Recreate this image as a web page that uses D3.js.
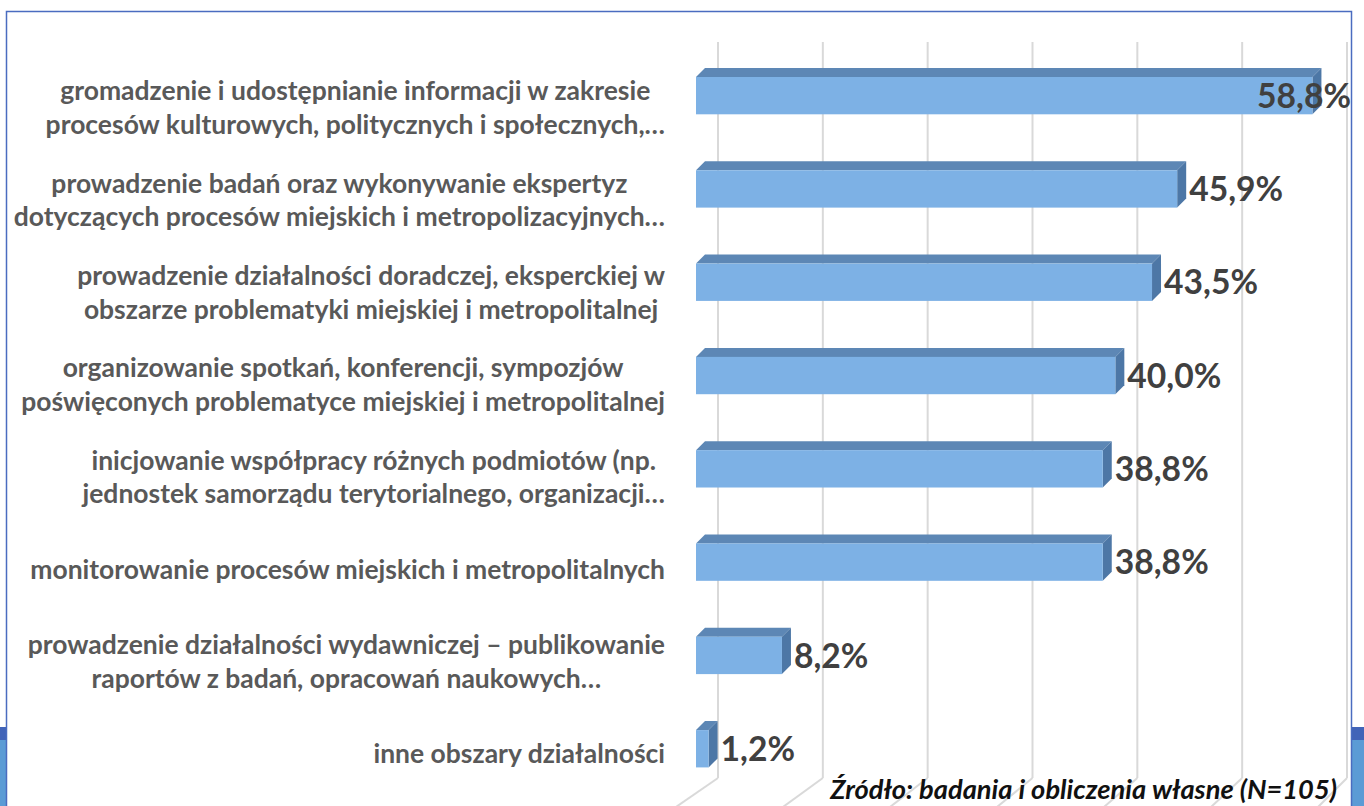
<!DOCTYPE html>
<html lang="pl">
<head>
<meta charset="utf-8">
<script src="https://d3js.org/d3.v7.min.js"></script>
<style>
  body { margin: 0; background: #fff; overflow: hidden; }
  svg { display: block; }
  .cat { fill: #595959; font-family: Lato, "Open Sans", sans-serif; font-weight: bold; }
  .val { fill: #404040; font-family: Lato, "Open Sans", sans-serif; font-weight: bold; }
  .src { fill: #111; font-family: Lato, "Open Sans", sans-serif; font-weight: bold; font-style: italic; }
</style>
</head>
<body>
<svg id="chart" width="1364" height="806"></svg>
<script>
// dane
var categories = [
  ["gromadzenie i udostępnianie informacji w zakresie", "procesów kulturowych, politycznych i społecznych,…"],
  ["prowadzenie badań oraz wykonywanie ekspertyz", "dotyczących procesów miejskich i metropolizacyjnych…"],
  ["prowadzenie działalności doradczej, eksperckiej w", "obszarze problematyki miejskiej i metropolitalnej"],
  ["organizowanie spotkań, konferencji, sympozjów", "poświęconych problematyce miejskiej i metropolitalnej"],
  ["inicjowanie współpracy różnych podmiotów (np.", "jednostek samorządu terytorialnego, organizacji…"],
  ["monitorowanie procesów miejskich i metropolitalnych"],
  ["prowadzenie działalności wydawniczej – publikowanie", "raportów z badań, opracowań naukowych…"],
  ["inne obszary działalności"]
];
var values = [58.8, 45.9, 43.5, 40.0, 38.8, 38.8, 8.2, 1.2];
var valueLabels = ["58,8%", "45,9%", "43,5%", "40,0%", "38,8%", "38,8%", "8,2%", "1,2%"];
var gridTicks = [0, 10, 20, 30, 40, 50, 60];
var sourceText = "Źródło: badania i obliczenia własne (N=105)";

var svg = d3.select("#chart");
var idx = d3.range(values.length);

var x = d3.scaleLinear().domain([0, 60]).range([696, 1325]);
var y = d3.scaleBand().domain(idx).range([49, 795.4]).paddingInner(0.6).paddingOuter(0.3);
var yLab = d3.scaleBand().domain(idx).range([61.8, 800.2]).paddingInner(0.6).paddingOuter(0.3);

var depth = 9;       // głębokość słupka 3D
var wallOff = 22;    // przesunięcie tylnej ściany
var gridTop = 42, gridBottom = 778;

// ramka wykresu i fragmenty tła slajdu
svg.append("rect").attr("x", 0).attr("y", 727).attr("width", 6).attr("height", 79).attr("fill", "#5b9bd5");
svg.append("rect").attr("x", 0).attr("y", 727).attr("width", 6).attr("height", 13).attr("fill", "#4164b8");
svg.append("rect").attr("x", 1352).attr("y", 727).attr("width", 12).attr("height", 79).attr("fill", "#5b9bd5");
svg.append("rect").attr("x", 1352).attr("y", 727).attr("width", 12).attr("height", 13).attr("fill", "#4164b8");
svg.append("rect").attr("x", 6.5).attr("y", 11.5).attr("width", 1345).attr("height", 820)
  .attr("fill", "none").attr("stroke", "#4a6cc0").attr("stroke-width", 1.5);

// linie siatki (tylna ściana + podłoga)
var grid = svg.append("g");
gridTicks.forEach(function(t, k) {
  var gx = x(t) + wallOff;
  grid.append("line").attr("x1", gx).attr("x2", gx).attr("y1", gridTop).attr("y2", gridBottom)
    .attr("stroke", "#d9d9d9").attr("stroke-width", 2);
  var slope = 1.45 - 0.075 * k;
  grid.append("line").attr("x1", gx).attr("y1", gridBottom)
    .attr("x2", gx - slope * 40).attr("y2", gridBottom + 40)
    .attr("stroke", "#d9d9d9").attr("stroke-width", 2);
});

// słupki 3D
var bars = svg.append("g").selectAll("g").data(idx).join("g");
bars.append("path").attr("fill", "#5d87b5").attr("d", function(i) {
  var x0 = x(0), x1 = x(values[i]), y0 = y(i);
  return "M" + x0 + "," + y0 + "L" + (x0 + depth) + "," + (y0 - depth) +
    "L" + (x1 + depth) + "," + (y0 - depth) + "L" + x1 + "," + y0 + "Z";
});
bars.append("path").attr("fill", "#4d77a6").attr("d", function(i) {
  var x1 = x(values[i]), y0 = y(i), y1 = y(i) + y.bandwidth();
  return "M" + x1 + "," + y0 + "L" + (x1 + depth) + "," + (y0 - depth) +
    "L" + (x1 + depth) + "," + (y1 - depth) + "L" + x1 + "," + y1 + "Z";
});
bars.append("rect").attr("fill", "#7db1e5")
  .attr("x", x(0)).attr("y", function(i) { return y(i); })
  .attr("width", function(i) { return x(values[i]) - x(0); })
  .attr("height", y.bandwidth());

// dopasowanie rozmiaru czcionki do szerokości tekstu
function fitSize(cls, text, target) {
  var t = svg.append("text").attr("class", cls).style("font-size", "100px").text(text);
  var w = t.node().getComputedTextLength();
  t.remove();
  return 100 * target / w;
}
var catSize = fitSize("cat", categories[5][0], 635);
var valSize = fitSize("val", "45,9%", 94);
var srcSize = fitSize("src", sourceText, 507);

// etykiety kategorii
var labelRight = 665, lineH = 33.5;
var labs = svg.append("g").selectAll("g").data(idx).join("g");
labs.each(function(i) {
  var g = d3.select(this);
  var lines = categories[i];
  var tmp = lines.map(function(l) {
    return g.append("text").attr("class", "cat").style("font-size", catSize + "px").text(l);
  });
  var bw = d3.max(tmp, function(t) { return t.node().getComputedTextLength(); });
  var cx = labelRight - bw / 2;
  var cy = yLab(i) + yLab.bandwidth() / 2;
  tmp.forEach(function(t, j) {
    t.attr("x", cx).attr("text-anchor", "middle")
      .attr("y", cy + (j - (lines.length - 1) / 2) * lineH)
      .attr("dy", "0.35em");
  });
});

// etykiety wartości
svg.append("g").selectAll("text").data(idx).join("text")
  .attr("class", "val").style("font-size", valSize + "px")
  .text(function(i) { return valueLabels[i]; })
  .attr("y", function(i) { return y(i) + y.bandwidth() / 2; })
  .attr("dy", "0.36em")
  .attr("x", function(i) {
    var w = this.getComputedTextLength();
    return Math.min(x(values[i]) + depth + 3, 1351 - w);
  });

// źródło
svg.append("text").attr("class", "src").style("font-size", srcSize + "px")
  .attr("x", 1337).attr("y", 799).attr("text-anchor", "end").text(sourceText);
</script>
</body>
</html>
